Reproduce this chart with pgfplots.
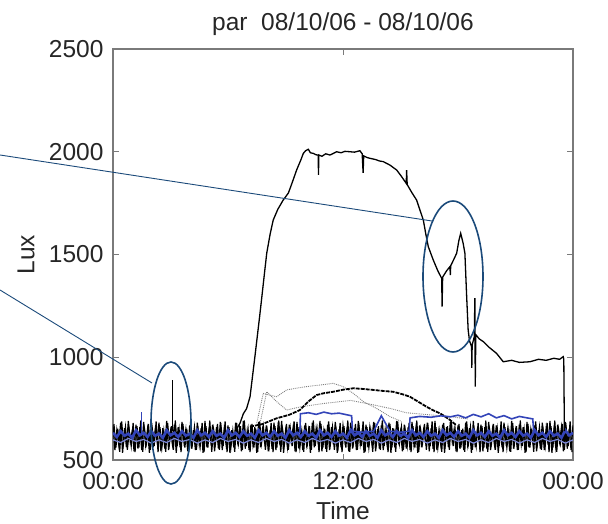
\documentclass[border=0pt]{standalone}
\usepackage{fontspec}
\setmainfont{Liberation Sans}
\usepackage{pgfplots}
\pgfplotsset{compat=1.18}
\definecolor{navy}{HTML}{1B4A7A}
\definecolor{dblue}{HTML}{3344B8}
\definecolor{lblue}{HTML}{7C88D8}
\definecolor{axgray}{HTML}{7A7A7A}
\newcommand{\bigfnt}{\fontsize{24.5}{29}\selectfont}
\begin{document}
\begin{tikzpicture}
\useasboundingbox (-113pt,-64pt) rectangle (495pt,460pt);
\begin{axis}[
  at={(0pt,0pt)}, anchor=south west,
  width=460pt, height=411pt, scale only axis,
  xmin=0, xmax=24, ymin=500, ymax=2500,
  xtick={0,12,24}, xticklabels={00:00,12:00,00:00},
  ytick={500,1000,1500,2000,2500},
  yticklabels={500,1000,1500,2000,2500},
  tick align=inside, major tick length=6pt,
  axis line style={axgray, line width=1.1pt},
  tick style={axgray, line width=0.9pt},
  tick label style={font=\bigfnt, text=black!85},
  xticklabel style={yshift=-9pt},
  yticklabel style={xshift=-6pt},
  label style={font=\bigfnt, text=black!85},
  xlabel style={at={(axis description cs:0.5,-0.123)}, anchor=center},
  ylabel style={at={(axis description cs:-0.189,0.5)}, anchor=center},
  title style={font=\bigfnt, text=black!85, yshift=4pt},
  title={par\ \ 08/10/06 - 08/10/06},
  xlabel={Time}, ylabel={Lux},
]
% black noise band (several sensors)
\addplot[black, line width=1.2pt] coordinates {
(0.0,668)(0.1,548)(0.2,645)(0.3,575)(0.4,682)(0.5,535)(0.6,655)(0.7,562)(0.8,690)(0.9,590)
(1.0,640)(1.1,542)(1.2,672)(1.3,555)(1.4,660)(1.5,548)(1.6,685)(1.7,575)(1.8,650)(1.9,535)
(2.0,668)(2.1,562)(2.2,645)(2.3,590)(2.4,682)(2.5,542)(2.6,655)(2.7,555)(2.8,690)(2.9,548)
(3.0,640)(3.1,575)(3.2,672)(3.3,535)(3.4,660)(3.5,562)(3.6,685)(3.7,590)(3.8,650)(3.9,542)
(4.0,668)(4.1,555)(4.2,645)(4.3,548)(4.4,682)(4.5,575)(4.6,655)(4.7,535)(4.8,690)(4.9,562)
(5.0,640)(5.1,590)(5.2,672)(5.3,542)(5.4,660)(5.5,555)(5.6,685)(5.7,548)(5.8,650)(5.9,575)
(6.0,668)(6.1,535)(6.2,645)(6.3,562)(6.4,682)(6.5,590)(6.6,655)(6.7,542)(6.8,690)(6.9,555)
(7.0,640)(7.1,548)(7.2,672)(7.3,575)(7.4,660)(7.5,535)(7.6,685)(7.7,562)(7.8,650)(7.9,590)
(8.0,668)(8.1,542)(8.2,645)(8.3,555)(8.4,682)(8.5,548)(8.6,655)(8.7,575)(8.8,690)(8.9,535)
(9.0,640)(9.1,562)(9.2,672)(9.3,590)(9.4,660)(9.5,542)(9.6,685)(9.7,555)(9.8,650)(9.9,548)
(10.0,668)(10.1,575)(10.2,645)(10.3,535)(10.4,682)(10.5,562)(10.6,655)(10.7,590)(10.8,690)(10.9,542)
(11.0,640)(11.1,555)(11.2,672)(11.3,548)(11.4,660)(11.5,575)(11.6,685)(11.7,535)(11.8,650)(11.9,562)
(12.0,668)(12.1,590)(12.2,645)(12.3,542)(12.4,682)(12.5,555)(12.6,655)(12.7,548)(12.8,690)(12.9,575)
(13.0,640)(13.1,535)(13.2,672)(13.3,562)(13.4,660)(13.5,590)(13.6,685)(13.7,542)(13.8,650)(13.9,555)
(14.0,668)(14.1,548)(14.2,645)(14.3,575)(14.4,682)(14.5,535)(14.6,655)(14.7,562)(14.8,690)(14.9,590)
(15.0,640)(15.1,542)(15.2,672)(15.3,555)(15.4,660)(15.5,548)(15.6,685)(15.7,575)(15.8,650)(15.9,535)
(16.0,668)(16.1,562)(16.2,645)(16.3,590)(16.4,682)(16.5,542)(16.6,655)(16.7,555)(16.8,690)(16.9,548)
(17.0,640)(17.1,575)(17.2,672)(17.3,535)(17.4,660)(17.5,562)(17.6,685)(17.7,590)(17.8,650)(17.9,542)
(18.0,668)(18.1,555)(18.2,645)(18.3,548)(18.4,682)(18.5,575)(18.6,655)(18.7,535)(18.8,690)(18.9,562)
(19.0,640)(19.1,590)(19.2,672)(19.3,542)(19.4,660)(19.5,555)(19.6,685)(19.7,548)(19.8,650)(19.9,575)
(20.0,668)(20.1,535)(20.2,645)(20.3,562)(20.4,682)(20.5,590)(20.6,655)(20.7,542)(20.8,690)(20.9,555)
(21.0,640)(21.1,548)(21.2,672)(21.3,575)(21.4,660)(21.5,535)(21.6,685)(21.7,562)(21.8,650)(21.9,590)
(22.0,668)(22.1,542)(22.2,645)(22.3,555)(22.4,682)(22.5,548)(22.6,655)(22.7,575)(22.8,690)(22.9,535)
(23.0,640)(23.1,562)(23.2,672)(23.3,590)(23.4,660)(23.5,542)(23.6,685)(23.7,555)(23.8,650)(23.9,548)
(24.0,668)};
% second noisy sensor
\addplot[black, line width=1.2pt] coordinates {
(0.05,675)(0.15,560)(0.25,652)(0.35,540)(0.45,688)(0.55,582)(0.65,660)(0.75,550)(0.85,642)(0.95,568)
(1.05,680)(1.15,538)(1.25,665)(1.35,560)(1.45,692)(1.55,540)(1.65,648)(1.75,582)(1.85,675)(1.95,550)
(2.05,652)(2.15,568)(2.25,688)(2.35,538)(2.45,660)(2.55,560)(2.65,642)(2.75,540)(2.85,680)(2.95,582)
(3.05,665)(3.15,550)(3.25,692)(3.35,568)(3.45,648)(3.55,538)
(3.65,675)(3.75,560)(3.85,652)(3.95,540)(4.05,688)(4.15,582)(4.25,660)(4.35,550)(4.45,642)(4.55,568)
(4.65,680)(4.75,538)(4.85,665)(4.95,560)(5.05,692)(5.15,540)(5.25,648)(5.35,582)(5.45,675)(5.55,550)
(5.65,652)(5.75,568)(5.85,688)(5.95,538)(6.05,660)(6.15,560)(6.25,642)(6.35,540)(6.45,680)(6.55,582)
(6.65,665)(6.75,550)(6.85,692)(6.95,568)(7.05,648)(7.15,538)
(7.25,675)(7.35,560)(7.45,652)(7.55,540)(7.65,688)(7.75,582)(7.85,660)(7.95,550)(8.05,642)(8.15,568)
(8.25,680)(8.35,538)(8.45,665)(8.55,560)(8.65,692)(8.75,540)(8.85,648)(8.95,582)(9.05,675)(9.15,550)
(9.25,652)(9.35,568)(9.45,688)(9.55,538)(9.65,660)(9.75,560)(9.85,642)(9.95,540)(10.05,680)(10.15,582)
(10.25,665)(10.35,550)(10.45,692)(10.55,568)(10.65,648)(10.75,538)
(10.85,675)(10.95,560)(11.05,652)(11.15,540)(11.25,688)(11.35,582)(11.45,660)(11.55,550)(11.65,642)(11.75,568)
(11.85,680)(11.95,538)(12.05,665)(12.15,560)(12.25,692)(12.35,540)(12.45,648)(12.55,582)(12.65,675)(12.75,550)
(12.85,652)(12.95,568)(13.05,688)(13.15,538)(13.25,660)(13.35,560)(13.45,642)(13.55,540)(13.65,680)(13.75,582)
(13.85,665)(13.95,550)(14.05,692)(14.15,568)(14.25,648)(14.35,538)
(14.45,675)(14.55,560)(14.65,652)(14.75,540)(14.85,688)(14.95,582)(15.05,660)(15.15,550)(15.25,642)(15.35,568)
(15.45,680)(15.55,538)(15.65,665)(15.75,560)(15.85,692)(15.95,540)(16.05,648)(16.15,582)(16.25,675)(16.35,550)
(16.45,652)(16.55,568)(16.65,688)(16.75,538)(16.85,660)(16.95,560)(17.05,642)(17.15,540)(17.25,680)(17.35,582)
(17.45,665)(17.55,550)(17.65,692)(17.75,568)(17.85,648)(17.95,538)
(18.05,675)(18.15,560)(18.25,652)(18.35,540)(18.45,688)(18.55,582)(18.65,660)(18.75,550)(18.85,642)(18.95,568)
(19.05,680)(19.15,538)(19.25,665)(19.35,560)(19.45,692)(19.55,540)(19.65,648)(19.75,582)(19.85,675)(19.95,550)
(20.05,652)(20.15,568)(20.25,688)(20.35,538)(20.45,660)(20.55,560)(20.65,642)(20.75,540)(20.85,680)(20.95,582)
(21.05,665)(21.15,550)(21.25,692)(21.35,568)(21.45,648)(21.55,538)
(21.65,675)(21.75,560)(21.85,652)(21.95,540)(22.05,688)(22.15,582)(22.25,660)(22.35,550)(22.45,642)(22.55,568)
(22.65,680)(22.75,538)(22.85,665)(22.95,560)(23.05,692)(23.15,540)(23.25,648)(23.35,582)(23.45,675)(23.55,550)
(23.65,652)(23.75,568)(23.85,688)(23.95,538)};
% spike at ~03:06
\addplot[black, line width=1.1pt] coordinates {(3.1,640)(3.1,888)};
% gray dotted curves
\addplot[gray, densely dotted, line width=0.9pt] coordinates {
(7.5,679)(7.84,824)(8.2,815)(8.54,808)(9.06,841)(9.6,850)(10.1,857)(10.8,865)(11.49,873)(12.01,857)(12.54,824)(13.06,784)(13.75,751)(14.45,711)(15.0,690)};
\addplot[gray, densely dotted, line width=0.9pt] coordinates {
(7.7,690)(8.02,832)(8.54,784)(9.06,743)(9.8,759)(11.0,775)(12.4,790)(13.5,770)(14.5,750)(15.3,730)(16.5,720)(17.5,712)(18.5,700)};
% black dome
\addplot[black, line width=1.8pt, dash pattern=on 4pt off 1pt] coordinates {
(7.15,662)(7.8,675)(8.54,703)(9.2,720)(9.75,743)(10.2,785)(10.62,816)(11.0,825)(11.49,832)(12.0,842)(12.54,849)(13.0,846)(13.58,841)(14.1,836)(14.62,832)(15.1,820)(15.49,808)(15.9,785)(16.36,759)(16.7,742)(17.06,727)(17.35,710)(17.58,695)(17.9,670)};
% light blue lower band
\addplot[lblue, line width=1.2pt] coordinates {
(0.0,598)(0.4,585)(0.8,605)(1.2,590)(1.6,600)(2.0,582)(2.4,598)(2.8,585)(3.2,605)(3.6,590)(4.0,600)(4.4,582)(4.8,598)(5.2,585)(5.6,605)(6.0,590)(6.4,600)(6.8,582)(7.2,598)(7.6,585)(8.0,605)(8.4,590)(8.8,600)(9.2,582)(9.6,598)(10.0,585)(10.4,605)(10.8,590)(11.2,600)(11.6,582)(12.0,598)(12.4,585)(12.8,605)(13.2,590)(13.6,600)(14.0,582)(14.4,598)(14.8,585)(15.2,605)(15.6,590)(16.0,600)(16.4,582)(16.8,598)(17.2,585)(17.6,605)(18.0,590)(18.4,600)(18.8,582)(19.2,598)(19.6,585)(20.0,605)(20.4,590)(20.8,600)(21.2,582)(21.6,598)(22.0,585)(22.4,605)(22.8,590)(23.2,600)(23.6,582)(24.0,598)};
% blue main band
\addplot[dblue, line width=2.6pt] coordinates {
(0.0,632)(0.2,612)(0.4,640)(0.6,618)(0.8,628)(1.0,608)(1.2,645)(1.4,620)
(1.6,632)(1.8,612)(2.0,640)(2.2,618)(2.4,628)(2.6,608)(2.8,645)(3.0,620)
(3.2,632)(3.4,612)(3.6,640)(3.8,618)(4.0,628)(4.2,608)(4.4,645)(4.6,620)
(4.8,632)(5.0,612)(5.2,640)(5.4,618)(5.6,628)(5.8,608)(6.0,645)(6.2,620)
(6.4,632)(6.6,612)(6.8,640)(7.0,618)(7.2,628)(7.4,608)(7.6,645)(7.8,620)
(8.0,632)(8.2,612)(8.4,640)(8.6,618)(8.8,628)(9.0,608)(9.2,645)(9.4,620)
(9.6,632)(9.8,612)(10.0,640)(10.2,618)(10.4,628)(10.6,608)(10.8,645)(11.0,620)
(11.2,632)(11.4,612)(11.6,640)(11.8,618)(12.0,628)(12.2,608)(12.4,645)(12.6,620)
(12.8,632)(13.0,612)(13.2,640)(13.4,618)(13.6,628)(13.8,608)(14.0,645)(14.2,620)
(14.4,632)(14.6,612)(14.8,640)(15.0,618)(15.2,628)(15.4,608)(15.6,645)(15.8,620)
(16.0,632)(16.2,612)(16.4,640)(16.6,618)(16.8,628)(17.0,608)(17.2,645)(17.4,620)
(17.6,632)(17.8,612)(18.0,640)(18.2,618)(18.4,628)(18.6,608)(18.8,645)(19.0,620)
(19.2,632)(19.4,612)(19.6,640)(19.8,618)(20.0,628)(20.2,608)(20.4,645)(20.6,620)
(20.8,632)(21.0,612)(21.2,640)(21.4,618)(21.6,628)(21.8,608)(22.0,645)(22.2,620)
(22.4,632)(22.6,612)(22.8,640)(23.0,618)(23.2,628)(23.4,608)(23.6,645)(23.8,620)
(24.0,632)};
% blue bumps
\addplot[dblue, line width=1.6pt] coordinates {
(9.6,630)(9.75,635)(9.78,725)(10.2,730)(10.6,722)(11.0,733)(11.4,725)(11.8,728)(12.2,720)(12.45,715)(12.5,640)(13.0,635)(13.6,640)(14.0,715)(14.45,640)(15.0,635)(15.45,640)(15.5,705)(16.0,712)(16.6,708)(17.1,715)(17.6,710)(18.0,718)(18.4,705)(18.8,722)(19.2,710)(19.6,725)(20.0,705)(20.4,716)(20.8,700)(21.2,712)(21.6,705)(21.9,700)(21.95,640)};
\addplot[dblue, line width=1pt] coordinates {(1.5,615)(1.5,733)};
% main curve
\addplot[black, line width=1.3pt] coordinates {
(6.45,650)(6.63,680)(6.8,725)(6.97,750)(7.15,808)(7.4,1000)(7.67,1214)(8.02,1506)(8.2,1600)(8.36,1668)(8.6,1720)(8.88,1765)(9.15,1799)(9.35,1850)(9.58,1911)(9.8,1960)(9.93,1992)(10.05,2005)(10.19,2012)(10.3,1995)(10.45,1992)(10.6,1985)(10.71,1984)(10.72,1887)(10.74,1984)(10.9,1978)(11.1,1990)(11.32,1984)(11.5,1992)(11.67,2000)(11.9,1995)(12.1,2002)(12.36,2000)(12.6,1998)(12.88,2005)(13.0,1990)(13.05,1897)(13.08,1980)(13.25,1972)(13.41,1968)(13.7,1962)(13.9,1955)(14.1,1952)(14.45,1935)(14.8,1911)(15.05,1880)(15.3,1846)(15.32,1911)(15.35,1840)(15.6,1800)(15.84,1765)(16.0,1720)(16.19,1668)(16.32,1600)(16.45,1538)(16.71,1473)(16.95,1420)(17.15,1384)(17.17,1246)(17.2,1390)(17.4,1420)(17.58,1441)(17.6,1400)(17.62,1445)(17.8,1480)(17.93,1506)(18.05,1570)(18.14,1603)(18.27,1554)(18.36,1506)(18.45,1300)(18.53,1133)(18.6,1080)(18.71,1051)(18.72,948)(18.74,1060)(18.85,1100)(18.88,1288)(18.9,857)(18.93,1110)(19.1,1090)(19.32,1076)(19.6,1050)(20.01,1019)(20.36,978)(20.8,985)(21.2,975)(21.75,978)(22.2,990)(22.6,985)(23.0,995)(23.3,990)(23.49,1003)(23.52,990)(23.55,640)};
\end{axis}
% annotations
\draw[navy, line width=0.9pt] (-113pt,305pt) -- (319pt,239pt);
\draw[navy, line width=0.9pt] (-113pt,170pt) -- (39pt,77pt);
\draw[navy, line width=1.6pt] (58pt,37pt) ellipse [x radius=20pt, y radius=61pt];
\draw[navy, line width=1.6pt] (340pt,183.5pt) ellipse [x radius=30pt, y radius=75.5pt];
\end{tikzpicture}
\end{document}
